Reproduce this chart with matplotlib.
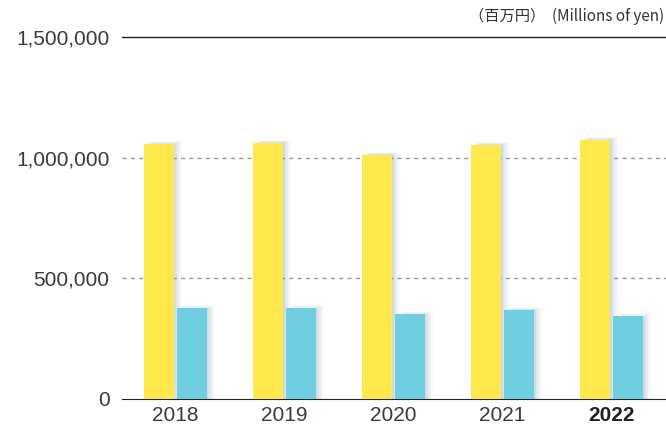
import numpy as np
import matplotlib.pyplot as plt

years = ['2018', '2019', '2020', '2021', '2022']
yellow_vals = [1058000, 1062000, 1012000, 1054000, 1074000]
blue_vals = [376000, 376000, 351000, 368000, 343000]
yticks = [0, 500000, 1000000, 1500000]

yellow = '#FFE84C'
blue = '#6FCFE0'

fig = plt.figure(figsize=(6.66, 4.26), dpi=100)
ax = fig.add_axes([0.183, 0.0634, 0.817, 0.8496])

x = np.arange(len(years))
w = 0.275
off = 0.151

# soft drop shadow (layered translucent bars)
for dx, extra, a in [(0.075, 12000, 0.035), (0.06, 9000, 0.045), (0.045, 6000, 0.06),
                     (0.03, 3000, 0.07), (0.015, 0, 0.08)]:
    ax.bar(x - off + dx, np.array(yellow_vals) + extra, w, color='#4f7290', alpha=a,
           zorder=2, linewidth=0)
    ax.bar(x + off + dx, np.array(blue_vals) + extra, w, color='#4f7290', alpha=a,
           zorder=2, linewidth=0)

ax.bar(x - off, yellow_vals, w, color=yellow, zorder=3, linewidth=0)
ax.bar(x + off, blue_vals, w, color=blue, zorder=3, linewidth=0)

ax.set_xlim(-0.49, 4.5)
ax.set_ylim(0, 1500000)
ax.set_yticks(yticks)
ax.set_yticklabels([f'{v:,}' for v in yticks], fontsize=15, color='#3a3a3a', family='Liberation Sans')
ax.set_xticks(x)
ax.set_xticklabels(years, fontsize=15, color='#3a3a3a', family='Liberation Sans')
ax.get_xticklabels()[-1].set_fontweight('bold')
ax.get_xticklabels()[-1].set_color('#222222')

for v in [500000, 1000000]:
    ax.axhline(v, color='#999999', linestyle=(0, (3, 3)), linewidth=1, zorder=1)
ax.axhline(1500000, color='#222222', linewidth=1, zorder=1, clip_on=False)

for s in ['left', 'right', 'top']:
    ax.spines[s].set_visible(False)
ax.spines['bottom'].set_color('#222222')
ax.tick_params(axis='y', length=0, pad=9)
ax.tick_params(axis='x', length=0, pad=5)

fig.text(0.997, 0.942, '（百万円）  (Millions of yen)', ha='right', va='bottom',
         fontsize=11, color='#333333', family=['Noto Sans CJK JP', 'DejaVu Sans'])

fig.savefig('out.png', dpi=100)
